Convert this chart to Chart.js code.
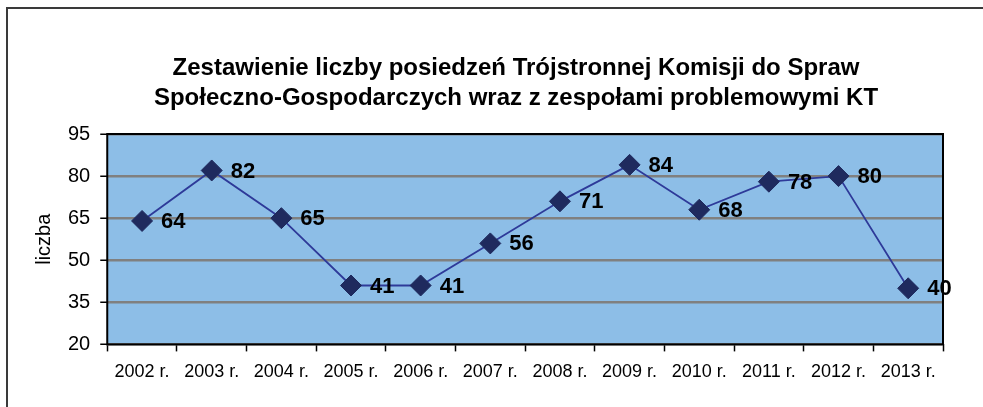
<!DOCTYPE html>
<html lang="pl">
<head>
  <meta charset="UTF-8" />
  <title>Zestawienie liczby posiedzeń</title>
  <script src="https://cdn.jsdelivr.net/npm/chart.js"></script>
  <style>
    html, body { margin: 0; padding: 0; background: #fff; }
    #wrap { position: relative; width: 983px; height: 407px; }
    #frame {
      position: absolute; left: 6px; top: 7px; width: 1000px; height: 420px;
      border-left: 2px solid #3a3a3a; border-top: 2px solid #3a3a3a;
      pointer-events: none;
    }
  </style>
</head>
<body>
<div id="wrap">
  <canvas id="chart" width="983" height="407"></canvas>
  <div id="frame"></div>
</div>

<script>
// data
const years = ['2002 r.', '2003 r.', '2004 r.', '2005 r.', '2006 r.', '2007 r.',
               '2008 r.', '2009 r.', '2010 r.', '2011 r.', '2012 r.', '2013 r.'];
const meetings = [64, 82, 65, 41, 41, 56, 71, 84, 68, 78, 80, 40];
const yTicks = [20, 35, 50, 65, 80, 95];
const titleLines = ['Zestawienie liczby posiedzeń Trójstronnej Komisji do Spraw',
                    'Społeczno-Gospodarczych wraz z zespołami problemowymi KT'];

const FONT = '"Liberation Sans", Arial, sans-serif';

// plot background, frame, title and value labels
const decor = {
  id: 'decor',
  beforeDraw(chart) {
    const { ctx, chartArea: a } = chart;
    ctx.save();
    ctx.fillStyle = '#8dbee7';
    ctx.fillRect(a.left, a.top, a.right - a.left, a.bottom - a.top);
    ctx.fillStyle = '#000';
    ctx.font = 'bold 24px ' + FONT;
    ctx.textAlign = 'center';
    ctx.textBaseline = 'middle';
    ctx.fillText(titleLines[0], 516, 68);
    ctx.fillText(titleLines[1], 516, 98);
    ctx.restore();
  },
  beforeDatasetsDraw(chart) {
    const { ctx, chartArea: a } = chart;
    ctx.save();
    ctx.strokeStyle = '#000';
    ctx.lineWidth = 2;
    ctx.strokeRect(a.left, a.top, a.right - a.left, a.bottom - a.top);
    ctx.restore();
  },
  afterDatasetsDraw(chart) {
    const { ctx } = chart;
    const meta = chart.getDatasetMeta(0);
    ctx.save();
    ctx.fillStyle = '#000';
    ctx.font = 'bold 22px ' + FONT;
    ctx.textAlign = 'left';
    ctx.textBaseline = 'middle';
    meta.data.forEach((pt, i) => {
      ctx.fillText(String(meetings[i]), pt.x + 19, pt.y + 1);
    });
    ctx.restore();
  }
};

new Chart(document.getElementById('chart'), {
  type: 'line',
  data: {
    labels: years,
    datasets: [{
      label: 'liczba',
      data: meetings,
      borderColor: '#2e3a99',
      borderWidth: 1.8,
      pointStyle: 'rectRot',
      pointRadius: 10.5,
      pointHoverRadius: 10.5,
      pointBackgroundColor: '#1f2a5e',
      pointBorderColor: '#1f2a5e',
      pointBorderWidth: 1,
      tension: 0
    }]
  },
  options: {
    responsive: false,
    animation: false,
    layout: { padding: { left: 30, right: 40, top: 134, bottom: 14 } },
    plugins: {
      legend: { display: false },
      title: { display: false },
      tooltip: { enabled: false }
    },
    scales: {
      x: {
        offset: true,
        grid: {
          offset: true,
          drawOnChartArea: false,
          drawTicks: true,
          tickLength: 7,
          tickColor: '#000',
          tickWidth: 1.5
        },
        border: { display: false },
        ticks: { color: '#000', padding: 10, maxRotation: 0, autoSkip: false, font: { family: FONT, size: 18 } }
      },
      y: {
        min: yTicks[0],
        max: yTicks[yTicks.length - 1],
        afterBuildTicks: axis => { axis.ticks = yTicks.map(v => ({ value: v })); },
        grid: {
          color: '#808080',
          lineWidth: 2.5,
          tickLength: 7,
          tickColor: '#000',
          tickWidth: 1.5
        },
        border: { display: false },
        title: { display: true, text: 'liczba', color: '#000', padding: 2, font: { family: FONT, size: 20 } },
        ticks: { color: '#000', padding: 10, font: { family: FONT, size: 20 } }
      }
    }
  },
  plugins: [decor]
});
</script>
</body>
</html>
